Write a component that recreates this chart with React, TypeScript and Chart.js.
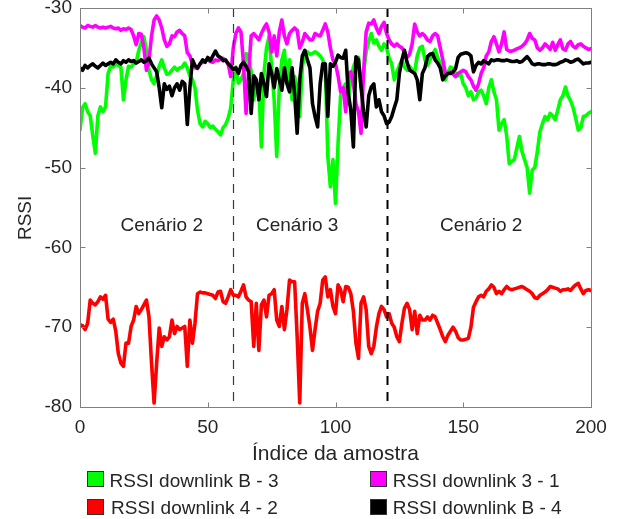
import React, { useEffect, useRef } from "react";
import { Chart, registerables } from "chart.js";

Chart.register(...registerables);

// Sample index runs 0..200 (one value per sample)
const xTicks = [0, 50, 100, 150, 200];
const yTicks = [-80, -70, -60, -50, -40, -30];
const scenarioDividers = [60, 120];
const scenarioLabels = ["Cenário 2", "Cenário 3", "Cenário 2"];
const scenarioLabelX = [32, 85, 157];
const scenarioLabelY = -57.95;
const yTitle = "RSSI";
const yTitleCenter = -56.3;

const seriesNames = [
  "RSSI downlink B - 3",
  "RSSI downlink 3 - 1",
  "RSSI downlink 4 - 2",
  "RSSI downlink B - 4",
];
const seriesColors = ["#00ff00", "#ff00ff", "#ff0000", "#000000"];

const rssiB3 = [
  -45.3, -42.5, -42, -43, -43.5, -46, -48.2, -43.5, -42.4, -43,
  -42.4, -38.2, -37.3, -37.4, -37, -37.2, -37.4, -41.5, -39, -37.3,
  -37.4, -37, -36.8, -35.3, -34.3, -33.6, -35.3, -37.8, -39, -39.5,
  -38.5, -37.3, -36.5, -37.5, -38.3, -38.2, -37.8, -37.4, -37.8, -37.5,
  -37.4, -36.9, -37.5, -38.5, -39, -40, -42.8, -44.5, -44.9, -44.2,
  -44.5, -45, -44.8, -45.2, -45.5, -45.9, -45, -44.6, -43.8, -42.5,
  -39, -37.4, -39.4, -39, -38.2, -35.7, -36.1, -38, -41.5, -39.4,
  -40, -47.4, -38.2, -35, -33.6, -37.4, -41.5, -48.6, -39.9, -36.5,
  -35.3, -39.4, -36.5, -41.5, -38.6, -40, -43.6, -37.4, -35.7, -35.5,
  -35.8, -35.7, -35.5, -35.7, -36, -36.5, -37.4, -48.6, -52.4, -49,
  -54.5, -47, -41, -40, -39.5, -41.5, -39, -37.4, -36.5, -36.2,
  -40, -38, -35.5, -34.2, -33.2, -34.4, -34, -34.8, -35.3, -34.5,
  -35, -36.3, -37, -39, -38, -37.2, -36.5, -37.4, -37.8, -37.3,
  -37.8, -38, -36, -35, -34.8, -36.5, -37.2, -36.5, -35.8, -35.2,
  -36.2, -37, -38.2, -39, -38, -37.4, -37.6, -38.2, -38.5, -38.2,
  -39.5, -40, -41, -40.5, -41.5, -41.3, -40.5, -40.3, -41, -42,
  -40, -39, -40.5, -41.5, -45.3, -44.5, -44, -46, -49.5, -49.2,
  -49, -47.5, -46.1, -48, -49, -50, -53.2, -50.3, -50, -48,
  -45.5, -44.5, -43.6, -44, -43.2, -43.5, -44, -42.8, -41.5, -41,
  -39.9, -41, -41.6, -42.5, -43.8, -45.3, -45, -43.6, -43.5, -43.2,
  -43,
];

const rssi31 = [
  -32.2, -32.4, -32.5, -32.2, -32.3, -32.4, -32.2, -32.4, -32.5, -32.4,
  -32.5, -32.4, -32.3, -32.5, -32.6, -32.5, -32.8, -32.6, -32.7, -32.5,
  -32.7, -33.5, -34.6, -33.2, -33.3, -35, -37.8, -36.5, -33.5, -31.5,
  -31, -31.5, -32.5, -34, -34.8, -34.5, -33.5, -33.6, -33, -32.8,
  -33.2, -33.5, -35.6, -36, -37, -37.5, -37.6, -37, -36.8, -36.6,
  -36.5, -36.7, -36.8, -36.5, -36.6, -36.4, -36.3, -36.6, -37, -38.6,
  -35, -33.2, -32.5, -33, -37, -43.2, -38, -33.5, -33.2, -33.6,
  -34, -33.2, -32.5, -32, -33, -35.5, -33.5, -36, -33, -31.5,
  -33.5, -34.5, -33.2, -32.8, -32.5, -32.8, -35, -34.3, -33.2, -33.6,
  -34, -34, -33.2, -33.4, -33.5, -32.8, -32, -33, -35, -36.5,
  -37, -38.5, -40.5, -40, -43, -38.5, -38, -39.5, -42, -43,
  -45.7, -38, -33, -31.9, -32, -31.5, -32.5, -33.2, -32.3, -31.8,
  -33.2, -34, -34.5, -34.8, -34.5, -34.8, -35, -35.5, -36.2, -35.8,
  -34.5, -32, -33, -33.5, -33.2, -33.5, -34, -34.2, -33.5, -33.2,
  -33.5, -35, -36.5, -38.2, -38.2, -38, -38.3, -38.6, -38.2, -38,
  -37.8, -38, -38.6, -39, -39.8, -40.3, -39.5, -38.2, -37.5, -36,
  -35.5, -34.2, -33.6, -34.5, -35.5, -34.5, -33, -35.2, -35.4, -35.4,
  -35.3, -35.1, -35, -34.8, -34.5, -34, -33.2, -33.8, -34, -35,
  -35.3, -35, -34.5, -34.8, -35.2, -34.3, -35.3, -34.6, -34, -35.1,
  -35.3, -34.5, -34.2, -34.8, -35, -34.6, -34.5, -34.8, -35, -35.2,
  -35.1,
];

const rssi42 = [
  -69.7, -69.8, -70.3, -69.5, -66.6, -67, -67.2, -66.8, -66.2, -66.5,
  -66, -69, -69.4, -69, -70.5, -73.3, -74.5, -74.9, -72, -72,
  -69.9, -69.1, -67.4, -68.3, -67.8, -67.2, -66.6, -68.7, -74.5, -79.5,
  -74.5, -70.1, -72.4, -71.2, -71.6, -71.2, -69.1, -70.8, -69.9, -70.3,
  -70.1, -69.9, -74.9, -69.1, -72, -69.5, -65.8, -65.6, -65.7, -65.7,
  -65.8, -65.9, -66, -66.4, -65.6, -65.5, -66.8, -67, -66.2, -65.3,
  -66, -66, -66.2, -65.5, -64.7, -66.2, -66.6, -66.8, -72.4, -67,
  -72.9, -67.2, -66.6, -68.7, -66, -65.8, -65.3, -69.1, -69.9, -67.4,
  -70.3, -67.8, -64.1, -64.3, -64.3, -71.2, -79.5, -67, -65.8, -67.8,
  -70, -72.9, -70.3, -68, -67, -64.1, -63.7, -66.2, -65.3, -67.4,
  -68.3, -64.7, -65.3, -66.8, -64.9, -65, -65.8, -68, -72, -73.9,
  -67, -66.2, -67.8, -72.4, -73.3, -72.4, -70, -68.3, -67.4, -67.8,
  -68.7, -68.3, -69.5, -70, -71.2, -71.8, -69.5, -67.6, -67, -67.8,
  -70.3, -68, -70.8, -68.5, -69.1, -69.1, -68.7, -69.1, -68.5, -68.7,
  -69.5, -70.3, -71.2, -71.8, -71, -70.5, -70, -70.5, -71.3, -71.6,
  -71.6, -71.5, -71.4, -70, -67.5, -66.8, -66.2, -66, -66.2, -65.5,
  -65.2, -64.7, -65, -65.8, -65.5, -65.8, -65.3, -64.9, -65.2, -65.3,
  -65.2, -65.1, -65, -64.9, -65.1, -65.3, -65.5, -65.8, -66.3, -66.4,
  -66, -65.8, -65.6, -65.3, -64.9, -65, -65.1, -65.2, -65.5, -65.3,
  -65.3, -65.2, -65.4, -65, -64.7, -64.5, -65.2, -65.8, -65.4, -65.3,
  -65.4,
];

const rssiB4 = [
  -37.5, -37.8, -37.2, -37.5, -37.2, -37, -37.3, -37.5, -37.2, -36.9,
  -37.2, -37, -36.8, -37, -36.5, -36.8, -37, -36.6, -36.8, -36.5,
  -36.7, -36.6, -36.9, -36.7, -36.5, -36.8, -36.6, -36.3, -37, -37.5,
  -38, -40, -42.5, -39.5, -40.2, -39.8, -41, -40, -39.5, -40.3,
  -39.2, -39.5, -44.6, -40, -36.5, -37.2, -37.5, -37, -36.5, -36.8,
  -36.2, -36.6, -36, -35.4, -36, -36.2, -36.6, -36.5, -37, -37.3,
  -37.7, -37.5, -38.2, -37.2, -36.8, -37.3, -38, -43.2, -38.5, -39,
  -41.5, -38.2, -39.5, -41.1, -37, -38.2, -40, -37.6, -39, -40.3,
  -37.5, -39.5, -40.5, -37.5, -40.8, -45.7, -39, -36, -35.3, -36.5,
  -37.5, -42, -43.6, -44.9, -39.5, -37, -37, -43.6, -37, -37.3,
  -36.8, -35.9, -36.2, -36.3, -35.3, -40.7, -42.8, -47.4, -36.1, -36.5,
  -39.9, -43, -44.9, -41, -39.9, -39.5, -42.4, -41.5, -43, -43.5,
  -44.5, -44.3, -43.6, -42.5, -41.5, -38.2, -36.5, -35.3, -36.8, -37.8,
  -38, -38.2, -39, -41.5, -38.2, -37.5, -36.1, -35.8, -35.7, -36.5,
  -36.9, -37.5, -39, -38.5, -38.2, -38.2, -38, -37.6, -36.2, -35.8,
  -35.7, -35.6, -35.7, -36, -38, -37.2, -36.8, -37, -36.6, -36.8,
  -37, -36.5, -36.6, -36.5, -36.5, -36.6, -36.6, -36.5, -36.6, -36.7,
  -36.7, -36.6, -36.8, -36.7, -36.4, -36.1, -36.5, -37, -37.1, -37,
  -37, -37.1, -37.1, -37, -37, -37.1, -37.1, -37, -36.8, -36.7,
  -36.5, -36.6, -36.8, -36.7, -36.5, -36.4, -36.7, -37, -36.9, -36.9,
  -36.8,
];

const FONT = "'Liberation Sans', Arial, Helvetica, sans-serif";
const TEXT = "#262626";
const AXIS = "#808080";

const toPoints = (vals: number[]) => vals.map((v, i) => ({ x: i, y: v }));

const overlayPlugin = {
  id: "matlabOverlay",
  afterDatasetsDraw(chart: any) {
    const { ctx, chartArea: a, scales } = chart;
    const xs = scales.x;
    const ys = scales.y;
    ctx.save();
    // scenario dividers
    scenarioDividers.forEach((d, k) => {
      const px = Math.round(xs.getPixelForValue(d)) + 0.5;
      ctx.beginPath();
      ctx.setLineDash([9, 7]);
      ctx.lineWidth = k === 0 ? 1.2 : 2;
      ctx.strokeStyle = k === 0 ? "#3a3a3a" : "#000000";
      ctx.moveTo(px, a.top);
      ctx.lineTo(px, a.bottom);
      ctx.stroke();
    });
    ctx.setLineDash([]);
    // scenario labels
    ctx.font = `19px ${FONT}`;
    ctx.fillStyle = TEXT;
    ctx.textAlign = "center";
    ctx.textBaseline = "alphabetic";
    scenarioLabels.forEach((t, k) => {
      ctx.fillText(t, xs.getPixelForValue(scenarioLabelX[k]), ys.getPixelForValue(scenarioLabelY));
    });
    // y axis title
    ctx.save();
    ctx.translate(26, ys.getPixelForValue(yTitleCenter));
    ctx.rotate(-Math.PI / 2);
    ctx.textBaseline = "middle";
    ctx.fillText(yTitle, 0, 0);
    ctx.restore();
    // box
    ctx.strokeStyle = AXIS;
    ctx.lineWidth = 1;
    const L = Math.round(a.left) + 0.5;
    const R = Math.round(a.right) + 0.5;
    const T = Math.round(a.top) + 0.5;
    const B = Math.round(a.bottom) + 0.5;
    ctx.strokeRect(L, T, R - L, B - T);
    // inward ticks
    const tl = 5;
    ctx.beginPath();
    xTicks.forEach((v) => {
      const px = Math.round(xs.getPixelForValue(v)) + 0.5;
      ctx.moveTo(px, B);
      ctx.lineTo(px, B - tl);
      ctx.moveTo(px, T);
      ctx.lineTo(px, T + tl);
    });
    yTicks.forEach((v) => {
      const py = Math.round(ys.getPixelForValue(v)) + 0.5;
      ctx.moveTo(L, py);
      ctx.lineTo(L + tl, py);
      ctx.moveTo(R, py);
      ctx.lineTo(R - tl, py);
    });
    ctx.stroke();
    ctx.restore();
  },
};

const legendItems = [
  { name: seriesNames[0], color: seriesColors[0], boxLeft: 87, boxTop: 471, textLeft: 109.5, textTop: 471.2 },
  { name: seriesNames[2], color: seriesColors[2], boxLeft: 87, boxTop: 499, textLeft: 111, textTop: 498.2 },
  { name: seriesNames[1], color: seriesColors[1], boxLeft: 369.5, boxTop: 471, textLeft: 392.7, textTop: 471.2 },
  { name: seriesNames[3], color: seriesColors[3], boxLeft: 369.5, boxTop: 498.5, textLeft: 392.7, textTop: 497.9 },
];

export default function App() {
  const canvasRef = useRef<HTMLCanvasElement | null>(null);

  useEffect(() => {
    const canvas = canvasRef.current;
    if (!canvas) return;
    const mk = (label: string, color: string, vals: number[]) => ({
      label,
      data: toPoints(vals),
      borderColor: color,
      backgroundColor: color,
      borderWidth: 3.6,
      pointRadius: 0,
      tension: 0,
      fill: false,
      borderJoinStyle: "round" as const,
      borderCapStyle: "round" as const,
    });
    const chart = new Chart(canvas, {
      type: "line",
      data: {
        // first dataset is drawn on top
        datasets: [
          mk(seriesNames[3], seriesColors[3], rssiB4),
          mk(seriesNames[1], seriesColors[1], rssi31),
          mk(seriesNames[2], seriesColors[2], rssi42),
          mk(seriesNames[0], seriesColors[0], rssiB3),
        ],
      },
      options: {
        responsive: false,
        animation: false,
        devicePixelRatio: 1,
        events: [],
        layout: { padding: { top: 8, right: 27, left: 0, bottom: 0 } },
        plugins: { legend: { display: false }, tooltip: { enabled: false } },
        scales: {
          x: {
            type: "linear",
            min: 0,
            max: 200,
            afterBuildTicks: (s: any) => {
              s.ticks = xTicks.map((v) => ({ value: v }));
            },
            ticks: { font: { size: 19, family: FONT }, color: TEXT, padding: 9, maxRotation: 0 },
            grid: { display: false, drawTicks: false },
            border: { display: false },
            title: {
              display: true,
              text: "Índice da amostra",
              font: { size: 21, family: FONT },
              color: TEXT,
              padding: { top: 0, bottom: 52 },
            },
            afterFit: (s: any) => {
              s.height = 112;
              s.paddingLeft = 0;
              s.paddingRight = 0;
            },
          },
          y: {
            type: "linear",
            min: -80,
            max: -30,
            afterBuildTicks: (s: any) => {
              s.ticks = yTicks.map((v) => ({ value: v }));
            },
            ticks: { font: { size: 19, family: FONT }, color: TEXT, padding: 8 },
            grid: { display: false, drawTicks: false },
            border: { display: false },
            title: { display: false },
            afterFit: (s: any) => {
              s.width = 80;
              s.paddingTop = 0;
              s.paddingBottom = 0;
            },
          },
        },
      },
      plugins: [overlayPlugin],
    });
    return () => chart.destroy();
  }, []);

  return (
    <div style={{ position: "fixed", left: 0, top: 0, width: 618, height: 519, background: "#fff", fontFamily: FONT }}>
      <canvas ref={canvasRef} width={618} height={519} style={{ display: "block", width: 618, height: 519 }} />
      {legendItems.map((it) => (
        <React.Fragment key={it.name}>
          <div
            style={{
              position: "absolute",
              left: it.boxLeft,
              top: it.boxTop,
              width: 17,
              height: 16,
              boxSizing: "border-box",
              border: "1px solid #333",
              background: it.color,
            }}
          />
          <div
            style={{
              position: "absolute",
              left: it.textLeft,
              top: it.textTop,
              fontSize: 19,
              lineHeight: "19px",
              color: TEXT,
              whiteSpace: "nowrap",
            }}
          >
            {it.name}
          </div>
        </React.Fragment>
      ))}
    </div>
  );
}
